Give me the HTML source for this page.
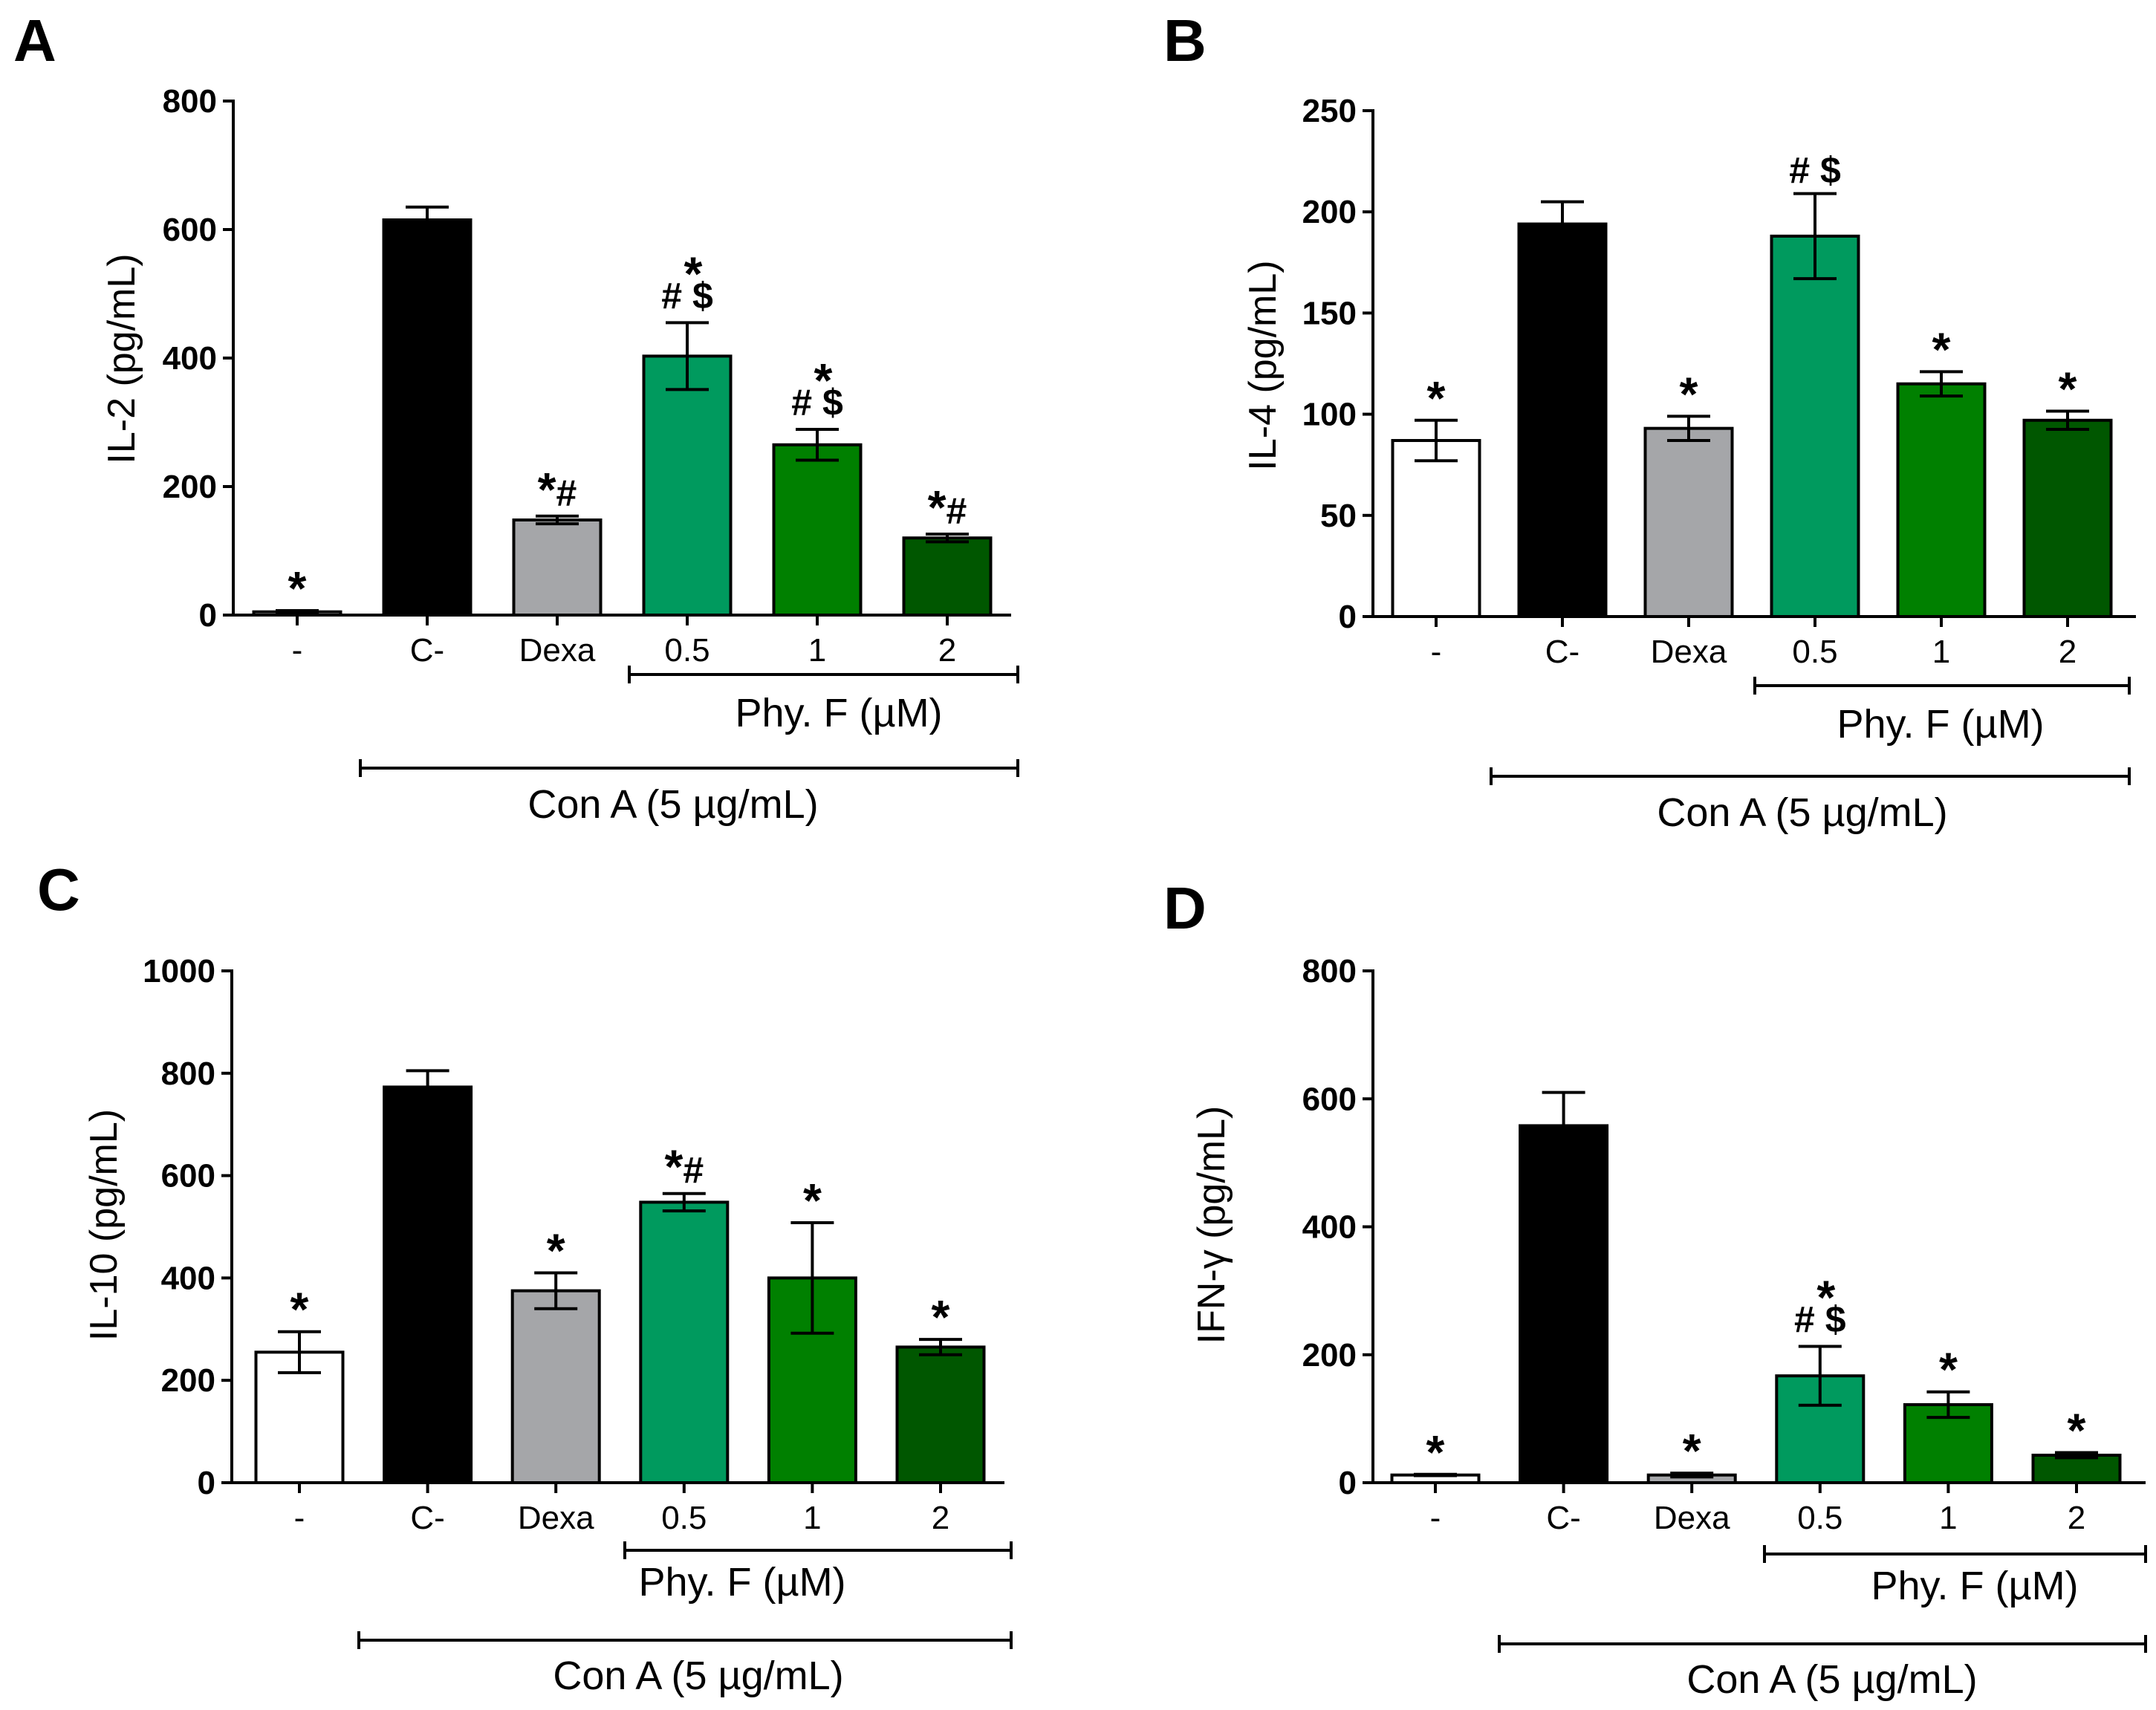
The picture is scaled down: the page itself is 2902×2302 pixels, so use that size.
<!DOCTYPE html>
<html><head><meta charset="utf-8"><style>
html,body{margin:0;padding:0;background:#fff;}
svg{display:block;}
.tk{font-family:"Liberation Sans Narrow","Liberation Sans",sans-serif;font-weight:bold;font-size:44px;}
.cat{font-family:"Liberation Sans Narrow","Liberation Sans",sans-serif;font-size:44px;}
.ttl{font-family:"Liberation Sans",sans-serif;font-size:52px;}
.grp{font-family:"Liberation Sans",sans-serif;font-size:54px;}
.ann{font-family:"Liberation Sans",sans-serif;font-size:50px;font-weight:bold;}
.star{font-size:64px;}
.let{font-family:"Liberation Sans",sans-serif;font-size:80px;font-weight:bold;}
</style></head><body>
<svg id="fig" width="2902" height="2302" viewBox="0 0 2902 2302" xmlns="http://www.w3.org/2000/svg"></svg>
<script>
const categories = ["-", "C-", "Dexa", "0.5", "1", "2"];
const barColors = ["#ffffff", "#000000", "#a5a6a9", "#009a5e", "#008000", "#005700"];
const valuesA = [5, 615, 148, 403, 265, 120];
const errorsA = [2, 20, 6, 52, 24, 6];
const annotA = ["*", "", "*#", "*|# $", "*|# $", "*#"];
const ticksA = [0, 200, 400, 600, 800];
const valuesB = [87, 194, 93, 188, 115, 97];
const errorsB = [10, 11, 6, 21, 6, 4.5];
const annotB = ["*", "", "*", "# $", "*", "*"];
const ticksB = [0, 50, 100, 150, 200, 250];
const valuesC = [255, 773, 375, 548, 400, 265];
const errorsC = [40, 32, 35, 17, 108, 15];
const annotC = ["*", "", "*", "*#", "*", "*"];
const ticksC = [0, 200, 400, 600, 800, 1000];
const valuesD = [12, 558, 12, 167, 122, 43];
const errorsD = [1, 52, 3, 46, 20, 4];
const annotD = ["*", "", "*", "*|# $", "*", "*"];
const ticksD = [0, 200, 400, 600, 800];

const NS = "http://www.w3.org/2000/svg";
const svg = document.getElementById("fig");
function mk(tag, attrs, parent, text){
  const e = document.createElementNS(NS, tag);
  for (const k in attrs) e.setAttribute(k, attrs[k]);
  if (text !== undefined) e.textContent = text;
  (parent || svg).appendChild(e);
  return e;
}
function annText(parent, x, y, str){
  const t = mk("text", {x:x, y:y, class:"ann"}, parent);
  for (const ch of str) {
    const s = mk("tspan", ch === "*" ? {class:"star"} : {}, t, ch);
  }
  return t;
}

const panels = [
 {id:"a", letter:"A", lx:18, ly:82, ax:314, top:136, zero:828, right:1361, x0:400, dx:175, max:800,
  vals:valuesA, errs:errorsA, ann:annotA, ticks:ticksA, ylabel:"IL-2  (pg/mL)", ylx:163, yly:483,
  phy:[847,1370,908], phyL:[1129,978], con:[485,1370,1034], conL:[906,1101]},
 {id:"b", letter:"B", lx:1566, ly:82, ax:1848, top:149, zero:830, right:2875, x0:1933, dx:170, max:250,
  vals:valuesB, errs:errorsB, ann:annotB, ticks:ticksB, ylabel:"IL-4  (pg/mL)", ylx:1699, yly:492,
  phy:[2362,2866,923], phyL:[2612,993], con:[2007,2866,1045], conL:[2426,1112]},
 {id:"c", letter:"C", lx:50, ly:1225, ax:312, top:1307, zero:1996, right:1352, x0:403, dx:172.6, max:1000,
  vals:valuesC, errs:errorsC, ann:annotC, ticks:ticksC, ylabel:"IL-10  (pg/mL)", ylx:139, yly:1649,
  phy:[841,1361,2087], phyL:[999,2148], con:[483,1361,2208], conL:[940,2274]},
 {id:"d", letter:"D", lx:1566, ly:1250, ax:1848, top:1307, zero:1996, right:2888, x0:1932, dx:172.6, max:800,
  vals:valuesD, errs:errorsD, ann:annotD, ticks:ticksD, ylabel:"IFN-γ (pg/mL)", ylx:1630, yly:1649,
  phy:[2375,2888,2092], phyL:[2658,2153], con:[2018,2888,2213], conL:[2466,2279]}
];

panels.forEach(p => {
  const g = mk("g", {});
  
  
  const y = v => p.zero - (v / p.max) * (p.zero - p.top);
  const x = i => p.x0 + i * p.dx;
  const bw = 117;

  const L = mk("text", {x:p.lx, y:p.ly, class:"let"}, g, p.letter);
  
  

  p.vals.forEach((v, i) => {
    const r = mk("rect", {x:x(i)-bw/2, y:y(v), width:bw, height:p.zero-y(v), fill:barColors[i], stroke:"#000", "stroke-width":4}, g);
    
    
    const e = p.errs[i];
    const eg = mk("g", {stroke:"#000", "stroke-width":4, fill:"none"}, g);
    
    
    mk("line", {x1:x(i), x2:x(i), y1:y(v+e), y2:y(Math.max(0, v-e))}, eg);
    mk("line", {x1:x(i)-29, x2:x(i)+29, y1:y(v+e), y2:y(v+e)}, eg);
    mk("line", {x1:x(i)-29, x2:x(i)+29, y1:y(Math.max(0, v-e)), y2:y(Math.max(0, v-e))}, eg);
    const a = p.ann[i];
    if (a) {
      const top = y(v+e);
      const lines = a.split("|");
      const ag = mk("g", {"text-anchor":"middle"}, g);
      
      
      if (lines.length === 2) {
        annText(ag, x(i)+8, top-44, lines[0]);
        annText(ag, x(i), top-19, lines[1]);
      } else {
        annText(ag, x(i), lines[0] === "*" ? top-8 : top-14, lines[0]);
      }
    }
    const c = mk("text", {x:x(i), y:p.zero+62, class:"cat", "text-anchor":"middle"}, g, categories[i]);
    
    
    mk("line", {x1:x(i), x2:x(i), y1:p.zero, y2:p.zero+14, stroke:"#000", "stroke-width":4}, g);
  });

  const ax = mk("g", {stroke:"#000", "stroke-width":4}, g);
  
  
  mk("line", {x1:p.ax, x2:p.ax, y1:p.top-2, y2:p.zero+2}, ax);
  mk("line", {x1:p.ax-14, x2:p.right, y1:p.zero, y2:p.zero}, ax);
  p.ticks.forEach(t => {
    mk("line", {x1:p.ax-14, x2:p.ax, y1:y(t), y2:y(t)}, ax);
    const tl = mk("text", {x:p.ax-22, y:y(t)+15, class:"tk", "text-anchor":"end"}, g, String(t));
    
    
  });

  const yl = mk("text", {x:0, y:0, class:"ttl", "text-anchor":"middle", transform:`translate(${p.ylx+18},${p.yly}) rotate(-90)`, "xml:space":"preserve"}, g, p.ylabel);
  
  

  [[p.phy, p.phyL, "Phy. F (µM)", "phy-bracket"], [p.con, p.conL, "Con A (5 µg/mL)", "con-a-bracket"]].forEach(b => {
    const [x1, x2, by] = b[0];
    const bg = mk("g", {stroke:"#000", "stroke-width":4}, g);
    
    
    mk("line", {x1:x1, x2:x2, y1:by, y2:by}, bg);
    mk("line", {x1:x1, x2:x1, y1:by-12, y2:by+12}, bg);
    mk("line", {x1:x2, x2:x2, y1:by-12, y2:by+12}, bg);
    const t = mk("text", {x:b[1][0], y:b[1][1], class:"grp", "text-anchor":"middle"}, g, b[2]);
    
    
  });
});
</script>
</body></html>
